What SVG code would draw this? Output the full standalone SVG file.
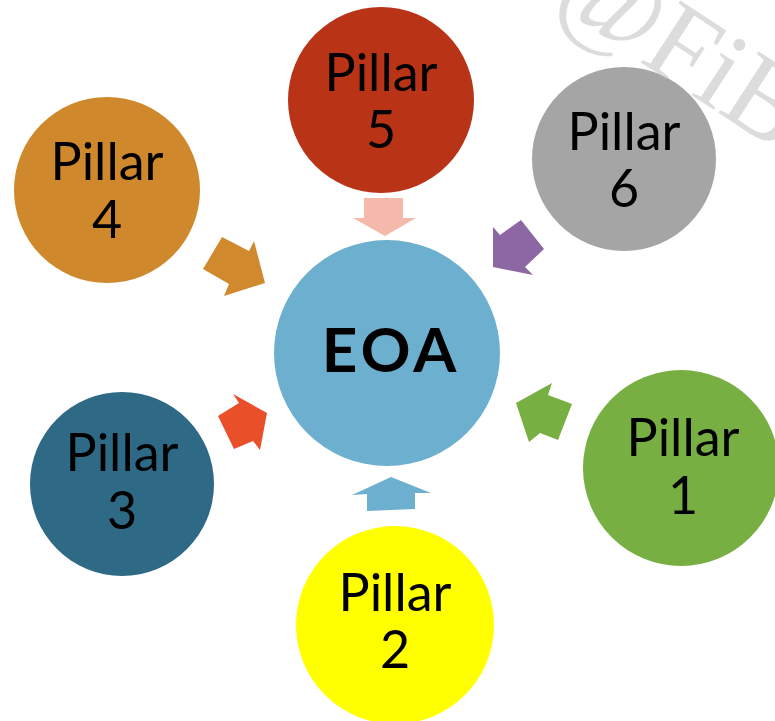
<svg xmlns="http://www.w3.org/2000/svg" width="775" height="721" viewBox="0 0 775 721">
<style>
.lbl{font-family:Lato,"Open Sans","Liberation Sans",sans-serif;font-size:52px;fill:#000;text-anchor:middle}
.hub{font-family:Lato,"Liberation Sans",sans-serif;font-size:62px;font-weight:bold;fill:#000;text-anchor:middle;letter-spacing:4px}
.wm{font-family:"Liberation Serif","DejaVu Serif",serif;font-size:112px;fill:#c4c4c4;fill-opacity:0.6}
</style>
<rect width="775" height="721" fill="#fff"/>
<g id="connectors">
<polygon points="364,198 403,198 403,218 416,218 385,236 353,218 364,218" fill="#F4B9AA"/>
<polygon points="203,269 222,237 249,251 254,241 265,283 224,296 229,284" fill="#D0892C"/>
<polygon points="521,220 544,249 525,267 533,275 493,267 493,227 500,235" fill="#8C67A4"/>
<polygon points="218,416 234,449 253,441 260,450 267,413 233,394 239,403" fill="#E9502A"/>
<polygon points="572,404 558,440 540,433 529,442 516,403 552,383 548,395" fill="#77AF43"/>
<polygon points="367,511 415,509 415,493 431,493 391,477 352,495 367,494" fill="#6DAFCE"/>
</g>
<g id="eoa">
<circle cx="387" cy="353" r="113" fill="#6DAFCE"/>
<text class="hub" x="391" y="372">EOA</text>
</g>
<g id="pillar5">
<circle cx="381" cy="100" r="93" fill="#B93317"/>
<text class="lbl" x="381" y="91">Pillar</text>
<text class="lbl" x="381" y="148">5</text>
</g>
<g id="pillar6">
<circle cx="624" cy="159" r="92" fill="#A5A5A5"/>
<text class="lbl" x="624" y="150">Pillar</text>
<text class="lbl" x="624" y="207">6</text>
</g>
<g id="pillar4">
<circle cx="107" cy="190" r="93" fill="#CF882C"/>
<text class="lbl" x="107" y="180">Pillar</text>
<text class="lbl" x="107" y="238">4</text>
</g>
<g id="pillar3">
<circle cx="122" cy="484" r="92" fill="#2E6A85"/>
<text class="lbl" x="122" y="471">Pillar</text>
<text class="lbl" x="122" y="529">3</text>
</g>
<g id="pillar2">
<circle cx="395" cy="625" r="99" fill="#FFFF00"/>
<text class="lbl" x="395" y="611">Pillar</text>
<text class="lbl" x="395" y="668">2</text>
</g>
<g id="pillar1">
<circle cx="681" cy="468" r="98" fill="#77AF43"/>
<text class="lbl" x="683" y="456">Pillar</text>
<text class="lbl" x="683" y="514">1</text>
</g>
<text class="wm" transform="translate(551,4) rotate(33)">@FiB</text>
</svg>
